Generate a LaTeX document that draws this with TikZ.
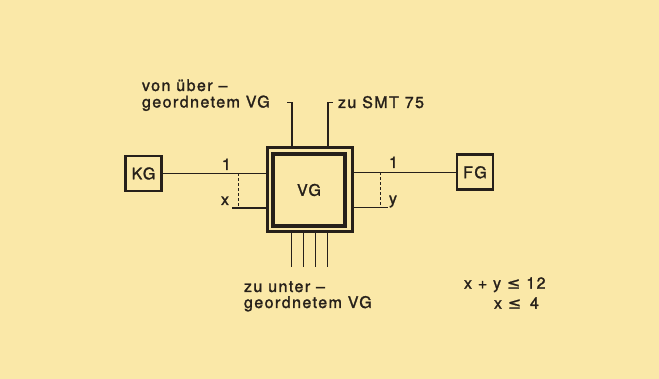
\documentclass[tikz,border=0pt]{standalone}
\usepackage{fontspec}
\setmainfont[LetterSpace=9,FakeBold=1.6]{TeX Gyre Heros}
\newfontfamily\symfont[LetterSpace=9,FakeBold=1.2]{DejaVu Sans}
\definecolor{bg}{RGB}{250,232,168}
\definecolor{ink}{RGB}{38,32,26}
\begin{document}
\begin{tikzpicture}[x=1pt,y=-1pt,
  every node/.style={text=ink,inner sep=0pt,outer sep=0pt,font=\fontsize{16}{17}\selectfont},
  lbl/.style={anchor=base west},
  thin line/.style={draw=ink,line width=1.4pt},
  dashline/.style={draw=ink,line width=1pt,dash pattern=on 3pt off 2pt},
  smallbox/.style={draw=ink,line width=2.6pt,minimum width=36pt,minimum height=35pt},
  outerbox/.style={draw=ink,line width=3pt,minimum width=85pt,minimum height=84pt},
  innerbox/.style={draw=ink,line width=3.5pt,minimum width=72pt,minimum height=72pt}]
\fill[bg] (0,0) rectangle (659,379);
\useasboundingbox (0,0) rectangle (659,379);
% boxes
\node[smallbox] (KG) at (143.5,173.5) {KG};
\node[smallbox] (FG) at (475,172.3) {FG};
\node[outerbox] (outer) at (309.5,190) {};
\node[innerbox] (inner) at (309,190) {VG};
% left side
\coordinate (L1) at (267,173.5);
\coordinate (L2s) at (232,208);
\coordinate (L2e) at (267,208);
\coordinate (Ld1) at (238.5,173.5);
\coordinate (Ld2) at (238.5,208);
\draw[thin line] (KG.east) -- (L1);
\draw[thin line] (L2s) -- (L2e);
\draw[dashline] (Ld1) -- (Ld2);
\node[lbl] (one1) at (222,170) {1};
\node[lbl] (xl) at (221,205) {x};
% right side
\coordinate (R1) at (352,172.3);
\coordinate (R2s) at (352,207.5);
\coordinate (R2e) at (388,207.5);
\coordinate (Rd1) at (380,172.3);
\coordinate (Rd2) at (380,207.5);
\draw[thin line] (R1) -- (FG.west);
\draw[thin line] (R2s) -- (R2e);
\draw[dashline] (Rd1) -- (Rd2);
\node[lbl] (one2) at (389,168) {1};
\node[lbl] (yl) at (389,204) {y};
% top
\coordinate (T1a) at (287,102.5);
\coordinate (T1b) at (292,102.5);
\coordinate (T1c) at (292,148);
\coordinate (T2a) at (333,102.5);
\coordinate (T2b) at (328,102.5);
\coordinate (T2c) at (328,148);
\draw[thin line] (T1a) -- (T1b) -- (T1c);
\draw[thin line] (T2a) -- (T2b) -- (T2c);
\node[lbl] (von1) at (142,91) {von über –};
\node[lbl] (von2) at (142,107.5) {geordnetem VG};
\node[lbl] (smt) at (338,108) {zu SMT 75};
% bottom
\foreach \i/\xx in {1/291.5,2/303.5,3/315.5,4/327.5}{
  \coordinate (B\i a) at (\xx,232);
  \coordinate (B\i b) at (\xx,267);
  \draw[thin line] (B\i a) -- (B\i b);
}
\node[lbl] (zu1) at (244,292) {zu unter –};
\node[lbl] (zu2) at (244,308) {geordnetem VG};
% formulas
\node[lbl] (f1) at (464,288.7) {x + y {\symfont ≤} 12};
\node[lbl] (f2a) at (494,308.7) {x {\symfont ≤}};
\node[lbl] (f2b) at (530,308.7) {4};
\end{tikzpicture}
\end{document}
